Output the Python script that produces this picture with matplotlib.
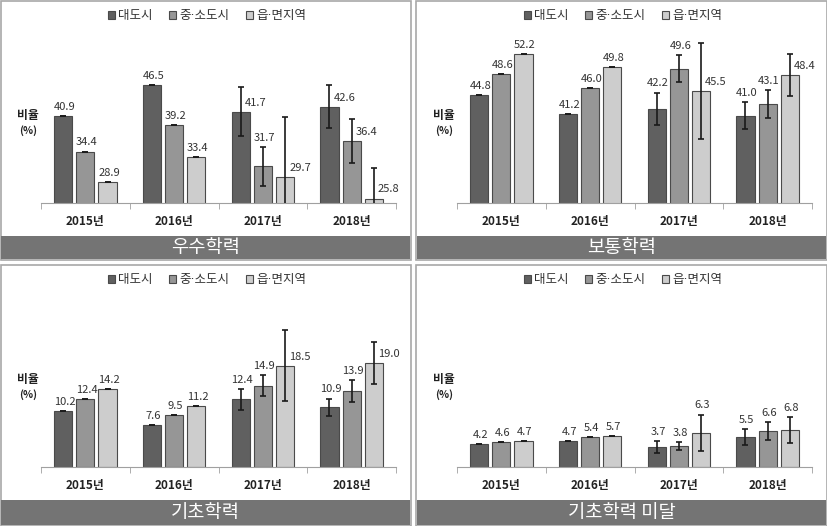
import numpy as np
import matplotlib.pyplot as plt
from matplotlib.patches import Rectangle

plt.rcParams['font.family'] = ['Noto Sans CJK KR', 'DejaVu Sans']

# 데이터
years = ['2015년', '2016년', '2017년', '2018년']
regions = ['대도시', '중·소도시', '읍·면지역']
titles = ['우수학력', '보통학력', '기초학력', '기초학력 미달']

excellent = [[40.9, 46.5, 41.7, 42.6],
             [34.4, 39.2, 31.7, 36.4],
             [28.9, 33.4, 29.7, 25.8]]
excellent_err = [[0, 0, 4.5, 3.9],
                 [0, 0, 3.5, 4.0],
                 [0, 0, 11.1, 5.6]]

normal = [[44.8, 41.2, 42.2, 41.0],
          [48.6, 46.0, 49.6, 43.1],
          [52.2, 49.8, 45.5, 48.4]]
normal_err = [[0, 0, 3.0, 2.4],
              [0, 0, 2.5, 2.6],
              [0, 0, 8.8, 3.9]]

basic = [[10.2, 7.6, 12.4, 10.9],
         [12.4, 9.5, 14.9, 13.9],
         [14.2, 11.2, 18.5, 19.0]]
basic_err = [[0, 0, 1.9, 1.6],
             [0, 0, 1.95, 1.95],
             [0, 0, 6.5, 3.85]]

below = [[4.2, 4.7, 3.7, 5.5],
         [4.6, 5.4, 3.8, 6.6],
         [4.7, 5.7, 6.3, 6.8]]
below_err = [[0, 0, 1.1, 1.45],
             [0, 0, 0.75, 1.6],
             [0, 0, 3.3, 2.4]]

panel_data = [excellent, normal, basic, below]
panel_err = [excellent_err, normal_err, basic_err, below_err]
panel_ymin = [25, 25, 0, 0]

colors = ['#606060', '#969696', '#cdcdcd']
edge = '#4a4a4a'

W, H = 827, 526
fig = plt.figure(figsize=(W / 100, H / 100), dpi=100)

# 패널 위치 (픽셀, 위쪽 기준)
origins = [(0, 0), (416, 0), (0, 264), (416, 264)]
panel_w = 411
panel_h = [260, 260, 262, 262]


def rect_px(x, y, w, h):
    return [x / W, 1 - (y + h) / H, w / W, h / H]


for i in range(4):
    ox, oy = origins[i]
    ph = panel_h[i]
    # 테두리
    l, b, w, h = rect_px(ox + 0.5, oy + 0.5, panel_w - 1, ph - 1)
    fig.patches.append(Rectangle((l, b), w, h, transform=fig.transFigure,
                                 facecolor='white', edgecolor='#a8a8a8', lw=1.2, zorder=-2))
    # 하단 제목 막대
    l, b, w, h = rect_px(ox + 1, oy + 236, panel_w - 2, ph - 237)
    fig.patches.append(Rectangle((l, b), w, h, transform=fig.transFigure,
                                 facecolor='#747474', edgecolor='none', zorder=-1))
    fig.text(l + w / 2, b + h / 2, titles[i], color='white', fontsize=13.5,
             ha='center', va='center')

    # 축
    ax = fig.add_axes(rect_px(ox + 41, oy + 39, 355, 164))
    ax.set_facecolor('none')
    ymin = panel_ymin[i]
    ax.set_ylim(ymin, ymin + 30)
    ax.set_xlim(-0.5, len(years) - 0.5)

    x = np.arange(len(years))
    width = 0.205
    step = 0.25
    for j in range(3):
        xs = x + (j - 1) * step
        vals = panel_data[i][j]
        errs = panel_err[i][j]
        ax.bar(xs, vals, width, color=colors[j], edgecolor=edge, lw=0.8,
               label=regions[j], zorder=2)
        ax.errorbar(xs, vals, yerr=errs, fmt='none', ecolor='#1a1a1a',
                    elinewidth=1.2, capsize=2.5, capthick=1.2, zorder=3)
        for xv, v, e in zip(xs, vals, errs):
            if e > 3.5:
                # 오차막대가 길면 오른쪽에 표시
                ax.annotate(f'{v:.1f}', (xv, v), xytext=(3, 3),
                            textcoords='offset points', ha='left', va='bottom',
                            fontsize=8, color='#333333')
            else:
                ax.annotate(f'{v:.1f}', (xv, v + e), xytext=(1, 3),
                            textcoords='offset points', ha='center', va='bottom',
                            fontsize=8, color='#333333')

    for s in ['top', 'right', 'left']:
        ax.spines[s].set_visible(False)
    ax.spines['bottom'].set_color('#a0a0a0')
    ax.set_yticks([])
    ax.set_xticks(x)
    ax.set_xticklabels(years, fontsize=8.5, fontweight='bold', color='#222222')
    ax.tick_params(axis='x', which='major', length=0, pad=9)
    ax.set_xticks(np.arange(len(years) + 1) - 0.5, minor=True)
    ax.tick_params(axis='x', which='minor', length=4, color='#a0a0a0')

    # y축 라벨
    fig.text((ox + 28) / W, 1 - (oy + 115) / H, '비율', fontsize=8.5,
             fontweight='bold', ha='center', va='center', color='#222222')
    fig.text((ox + 28) / W, 1 - (oy + 131) / H, '(%)', fontsize=7.5,
             fontweight='bold', ha='center', va='center', color='#222222')

    # 범례
    handles, labels = ax.get_legend_handles_labels()
    fig.legend(handles, labels, loc='center',
               bbox_to_anchor=((ox + 207) / W, 1 - (oy + 16) / H),
               ncol=3, frameon=False, handlelength=0.6,
               handleheight=0.6, handletextpad=0.25, columnspacing=1.3,
               labelcolor='#333333',
               prop={'family': ['DejaVu Sans', 'Noto Sans CJK KR'], 'size': 9})

fig.savefig('out.png', dpi=100)
